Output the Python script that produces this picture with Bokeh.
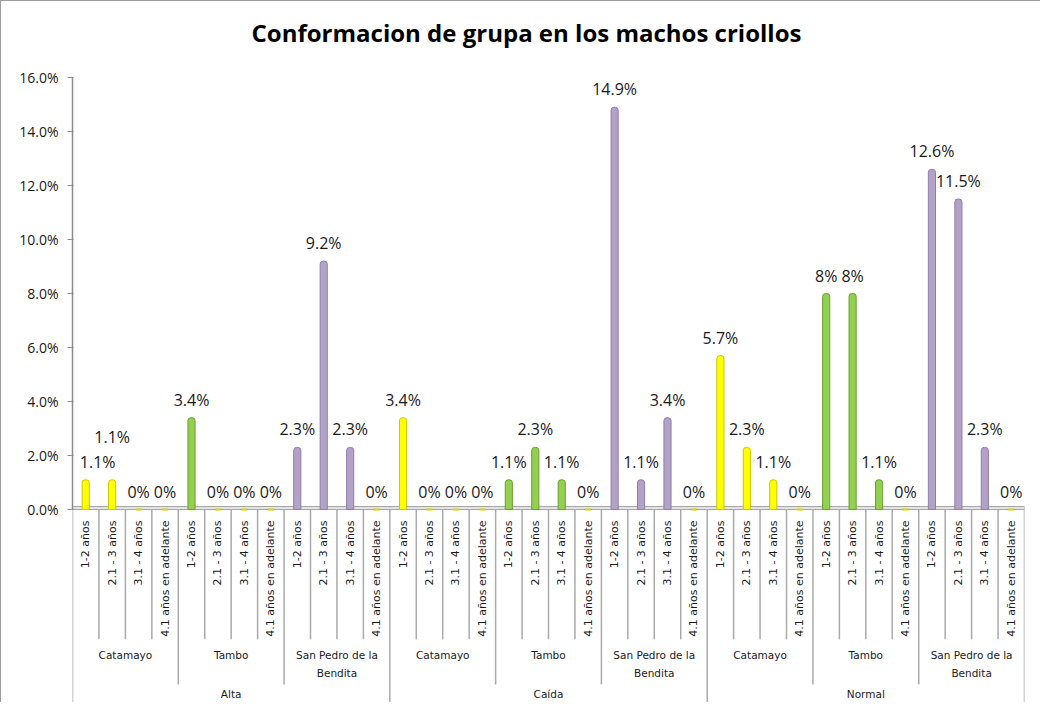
import math
from bokeh.plotting import figure
from bokeh.models import (FactorRange, Range1d, ColumnDataSource, FixedTicker,
                          NumeralTickFormatter)
from bokeh.core.properties import value
from bokeh.embed import file_html
from bokeh.resources import INLINE

# ---------------- data ----------------
title_text = "Conformacion de grupa en los machos criollos"
groups = ["Alta", "Caída", "Normal"]
places = ["Catamayo", "Tambo", "San Pedro de la Bendita"]
place_lines = [["Catamayo"], ["Tambo"], ["San Pedro de la", "Bendita"]]
ages = ["1-2 años", "2.1 - 3 años", "3.1 - 4 años", "4.1 años en adelante"]

# percent values, per group: Catamayo (4 ages), Tambo (4 ages), San Pedro (4 ages)
alta = [1.1, 1.1, 0, 0, 3.4, 0, 0, 0, 2.3, 9.2, 2.3, 0]
caida = [3.4, 0, 0, 0, 1.1, 2.3, 1.1, 0, 14.9, 1.1, 3.4, 0]
normal = [5.7, 2.3, 1.1, 0, 8, 8, 1.1, 0, 12.6, 11.5, 2.3, 0]

y_ticks = [0, 2, 4, 6, 8, 10, 12, 14, 16]

place_colors = ["#FFFF00", "#92D050", "#B3A2C7"]
place_edges = ["#C8C800", "#6E9E34", "#8F7EAB"]

FONT = "Open Sans"
SMALL = "DejaVu Sans"

# ---------------- build sources ----------------
series = {"Alta": alta, "Caída": caida, "Normal": normal}
factors, tops, fills, edges, labels = [], [], [], [], []
for g in groups:
    vals = series[g]
    for pi, pl in enumerate(places):
        for ai, a in enumerate(ages):
            v = vals[pi * 4 + ai]
            factors.append((g, pl, a))
            tops.append(v / 100.0)
            fills.append(place_colors[pi])
            edges.append(place_edges[pi])
            labels.append(("%d%%" % v) if float(v).is_integer() else ("%.1f%%" % v))

n = len(factors)
# label placement tweaks (pixels), as in the original chart
lab_dx = [0] * n
lab_dy = [-7] * n
lab_dx[0] = 12
lab_dy[1] = -32

bars = ColumnDataSource(dict(x=factors, top=tops, fill=fills, edge=edges,
                             label=labels, dx=lab_dx, dy=lab_dy))
zeros = ColumnDataSource(dict(x=[f for f, t in zip(factors, tops) if t == 0],
                              y=[0.0 for t in tops if t == 0]))

W, H = 1040, 702
PX = 2700.0                      # pixels per unit (27 px per 1 %)
y0 = -194 / PX                   # frame bottom
y1 = y0 + H / PX                 # frame top (frame fills the full height)
p = figure(width=W, height=H, output_backend="svg", toolbar_location=None,
           x_range=FactorRange(*factors, factor_padding=0, subgroup_padding=0,
                               group_padding=0, range_padding=0),
           y_range=Range1d(y0, y1),
           min_border_left=71, min_border_right=17, min_border_top=0,
           min_border_bottom=0)
p.outline_line_color = None
p.background_fill_color = "white"
p.border_fill_color = "white"
p.xgrid.visible = False
p.ygrid.visible = False
p.xaxis.visible = False
p.styles = {"border-left": "1px solid #9c9c9c", "border-top": "1px solid #9c9c9c"}

# title (drawn as text in the plot area, above the 16 % line)
p.text(x=[groups[1]], y=[477 / PX], text=[title_text], x_offset=-22,
       text_align="center", text_baseline="middle", text_font=value(FONT),
       text_font_size="24px", text_font_style="bold", text_color="#000000")

# y axis
ya = p.yaxis[0]
ya.ticker = FixedTicker(ticks=[t / 100.0 for t in y_ticks], minor_ticks=[])
ya.formatter = NumeralTickFormatter(format="0.0%")
ya.bounds = (0, max(y_ticks) / 100.0)
ya.axis_line_color = "#8c8c8c"
ya.axis_line_width = 1.5
ya.major_tick_line_color = "#8c8c8c"
ya.major_tick_out = 5
ya.major_tick_in = 1
ya.minor_tick_line_color = None
ya.major_label_text_font = FONT
ya.major_label_text_font_size = "14px"
ya.major_label_text_color = "#1a1a1a"
ya.major_label_standoff = 9

# floor
p.quad(left=[0], right=[n], bottom=[0], top=[0.0011],
       fill_color="#e4e4e4", line_color="#a6a6a6", line_width=1)

# separators of the category axis
sx, sy1 = [], []
for i in range(n + 1):
    if i % 12 == 0:
        bottom = y0
    elif i % 4 == 0:
        bottom = -0.0648
    else:
        bottom = -0.0481
    sx.append(i)
    sy1.append(bottom)
p.segment(x0=sx, y0=[0] * len(sx), x1=sx, y1=sy1, line_color="#aaaaaa", line_width=1.5)

# bars
p.vbar(x="x", top="top", width=0.27, source=bars, fill_color="fill",
       line_color="edge", line_width=1, border_radius=[3, 3, 0, 0])
p.scatter(x="x", y="y", source=zeros, marker="dash", size=6,
          line_color="#d4d400", line_width=2)

# value labels
p.text(x="x", y="top", text="label", source=bars, text_align="center",
       text_baseline="bottom", x_offset="dx", y_offset="dy", text_font=value(FONT),
       text_font_size="16px", text_color="#1a1a1a")

# age labels (vertical)
p.text(x=factors, y=[-0.00407] * n, text=[f[2] for f in factors], angle=math.pi / 2,
       text_align="right", text_baseline="middle", text_font=value(SMALL),
       text_font_size="11px", text_color="#1a1a1a")

# place labels
pl_x, pl_t, pl_dy = [], [], []
for g in groups:
    for pi, pl in enumerate(places):
        for li, line in enumerate(place_lines[pi]):
            pl_x.append((g, pl))
            pl_t.append(line)
            pl_dy.append(18 * li)
p.text(x=pl_x, y=[-0.05407] * len(pl_x), text=pl_t, y_offset=pl_dy,
       text_align="center", text_baseline="middle", text_font=value(SMALL),
       text_font_size="10.5px", text_color="#1a1a1a")

# group labels
p.text(x=groups, y=[-0.0685] * len(groups), text=groups, text_align="center",
       text_baseline="middle", text_font=value(SMALL), text_font_size="10.5px",
       text_color="#1a1a1a")

open("out.html", "w").write(file_html(p, INLINE))
